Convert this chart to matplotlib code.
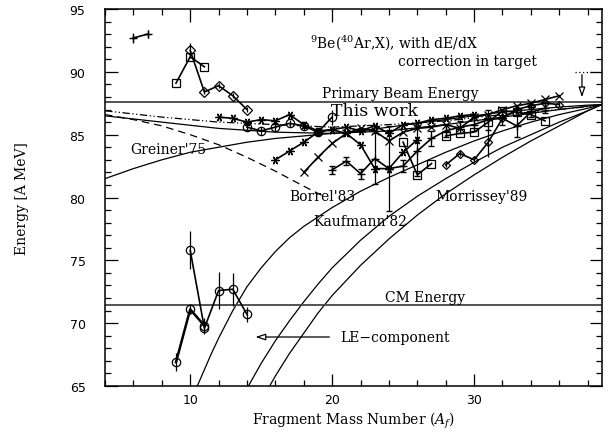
import numpy as np
import matplotlib
matplotlib.use("Agg")
import matplotlib.pyplot as plt
from matplotlib.ticker import MultipleLocator

# ---------------- data ----------------
# theory curves (x, y)
greiner_x = [4, 6, 8, 10, 12, 14, 16, 18, 20, 22, 24, 26, 28, 30, 32, 34, 36, 38, 39]
greiner_y = [81.5, 82.3, 83.0, 83.6, 84.0, 84.4, 84.7, 84.9, 85.1, 85.3, 85.6, 85.9, 86.2, 86.5, 86.8, 87.0, 87.2, 87.35, 87.4]

solid_top_x = [4, 8, 12, 16, 20, 24, 28, 32, 36, 39]
solid_top_y = [86.5, 86.0, 85.5, 85.2, 85.1, 85.3, 85.8, 86.4, 87.0, 87.4]

dashdot_x = [4, 8, 12, 16, 20, 24, 28, 32, 36, 39]
dashdot_y = [86.9, 86.4, 86.0, 85.8, 85.6, 85.8, 86.1, 86.6, 87.0, 87.35]

borrel_x = [4, 6, 8, 10, 12, 14, 16, 18, 19.4]
borrel_y = [86.6, 86.2, 85.7, 85.0, 84.2, 83.2, 82.1, 80.9, 80.1]

kauf1_x = [10.5, 11, 11.5, 12, 13, 14, 15, 16, 17, 18, 20, 22, 24, 26, 28, 30, 32, 34, 36, 38, 39]
kauf1_y = [65.0, 66.3, 67.6, 68.8, 71.0, 72.9, 74.4, 75.7, 76.8, 77.7, 79.2, 80.5, 81.6, 82.6, 83.6, 84.5, 85.3, 86.0, 86.6, 87.1, 87.4]

kauf2_x = [14.1, 14.5, 15, 16, 17, 18, 19, 20, 22, 24, 26, 28, 30, 32, 34, 36, 38, 39]
kauf2_y = [65.0, 65.8, 66.8, 68.6, 70.2, 71.7, 73.1, 74.4, 76.6, 78.5, 80.1, 81.5, 82.8, 84.0, 85.0, 86.0, 86.9, 87.4]

morr_x = [15.6, 16, 17, 18, 19, 20, 22, 24, 26, 28, 30, 32, 34, 36, 38, 39]
morr_y = [65.0, 65.8, 67.6, 69.2, 70.8, 72.2, 74.6, 76.7, 78.6, 80.3, 81.8, 83.2, 84.5, 85.7, 86.9, 87.4]

# measured series ("This work")
d1_x = [10, 11, 12, 13, 14]
d1_y = [91.7, 88.4, 88.9, 88.1, 87.0]
d1_e = [0.6, 0.2, 0.2, 0.2, 0.2]

s1_x = [9, 10, 11]
s1_y = [89.1, 91.2, 90.4]

p0_x = [6, 7]
p0_y = [92.7, 93.0]

c1_x = [14, 15, 16, 17, 18, 19, 20]
c1_y = [85.6, 85.3, 85.6, 85.9, 85.7, 85.2, 86.4]
c1_e = [0.3, 0.3, 0.3, 0.3, 0.3, 0.3, 0.6]

a1_x = [12, 13, 14, 15, 16, 17, 18, 19, 20, 21, 22, 23, 24, 25, 26, 27, 28, 29, 30]
a1_y = [86.4, 86.3, 86.0, 86.2, 86.1, 86.6, 85.8, 85.3, 85.4, 85.6, 85.3, 85.7, 85.1, 85.8, 85.9, 86.2, 86.3, 86.5, 86.6]

a2_x = [16, 17, 18, 19, 20, 21, 22, 23, 24, 25, 26]
a2_y = [83.0, 83.7, 84.4, 85.2, 85.4, 85.1, 84.2, 82.3, 82.3, 83.6, 84.6]

x1_x = [18, 19, 20, 21, 22, 23, 24, 25, 26, 27, 28, 29, 30, 31, 32, 33, 34, 35, 36]
x1_y = [82.0, 83.2, 84.3, 85.1, 85.5, 85.3, 84.5, 85.2, 85.5, 85.6, 85.8, 85.5, 86.4, 86.6, 87.0, 87.3, 87.5, 87.8, 88.1]

p1_x = [20, 21, 22, 23, 24, 25, 26, 27, 28, 29, 30, 31, 32, 33, 34, 35]
p1_y = [82.2, 82.9, 81.9, 83.1, 82.3, 82.5, 83.7, 84.7, 85.3, 85.6, 85.8, 86.2, 86.3, 85.7, 86.8, 87.1]
p1_e = [0.3, 0.3, 0.4, 2.0, 3.4, 0.5, 2.0, 0.6, 0.5, 0.5, 0.5, 0.8, 0.5, 0.9, 0.4, 0.4]

s2_x = [25, 26, 27]
s2_y = [84.4, 81.8, 82.7]

s3_x = [28, 29, 30, 31, 32, 33, 34, 35]
s3_y = [84.9, 85.1, 85.2, 86.0, 86.9, 86.8, 86.6, 86.1]

d2_x = [28, 29, 30, 31, 32, 33, 34, 35, 36]
d2_y = [82.6, 83.5, 83.0, 84.4, 86.3, 87.0, 87.3, 87.5, 87.4]
d2_e = [0.2, 0.2, 0.2, 1.2, 0.3, 0.2, 0.2, 0.2, 0.2]

le1_x = [9, 10, 11]
le1_y = [66.9, 71.1, 69.8]
le1_e = [0.7, 0.4, 0.6]

le2_x = [10, 11, 12, 13, 14]
le2_y = [75.8, 69.6, 72.6, 72.7, 70.7]
le2_e = [1.5, 0.5, 1.5, 1.3, 0.6]

primary_beam = 87.6
cm_energy = 71.45

# ---------------- plot ----------------
plt.rcParams['font.family'] = ['DejaVu Serif']
plt.rcParams['mathtext.fontset'] = 'dejavuserif'

fig = plt.figure(figsize=(6.16, 4.35), dpi=100)
ax = fig.add_axes([0.1705, 0.1103, 0.8065, 0.8667])
ax.set_xlim(4, 39)
ax.set_ylim(65, 95)

k = 'black'
tlw = 0.9
ax.plot(greiner_x, greiner_y, color=k, lw=tlw)
ax.plot(solid_top_x, solid_top_y, color=k, lw=tlw)
ax.plot(dashdot_x, dashdot_y, color=k, lw=tlw, linestyle=(0, (6, 2, 1, 2, 1, 2)))
ax.plot(borrel_x, borrel_y, color=k, lw=tlw, linestyle=(0, (6, 4)))
ax.plot(kauf1_x, kauf1_y, color=k, lw=tlw)
ax.plot(kauf2_x, kauf2_y, color=k, lw=tlw)
ax.plot(morr_x, morr_y, color=k, lw=tlw)

ax.axhline(primary_beam, color='#444444', lw=1.3)
ax.axhline(cm_energy, color='#444444', lw=1.3)

dlw = 1.2
ms = 6
ast = (6, 2, 90)
common = dict(color=k, lw=dlw, mfc='none', mec=k, mew=0.9, ms=ms)

ax.errorbar(d1_x, d1_y, yerr=d1_e, marker='D', ms=5, color=k, lw=dlw, mfc='none', mew=0.9, elinewidth=0.9, capsize=0)
ax.plot(s1_x, s1_y, marker='s', **common)
ax.errorbar(p0_x, p0_y, yerr=[0.4, 0.3], xerr=0.15, marker='+', color=k, lw=dlw, ms=6, elinewidth=0.9, capsize=0)
ax.errorbar(c1_x, c1_y, yerr=c1_e, marker='o', color=k, lw=dlw, mfc='none', ms=ms, mew=0.9, elinewidth=0.9, capsize=0)
ax.plot(a1_x, a1_y, marker=ast, **common)
ax.plot(a2_x, a2_y, marker=ast, **common)
ax.plot(x1_x, x1_y, marker='x', **common)
ax.errorbar(p1_x, p1_y, yerr=p1_e, marker='+', color=k, lw=dlw, ms=6, elinewidth=0.9, capsize=2)
ax.plot(s2_x, s2_y, marker='s', **common)
ax.plot(s3_x, s3_y, marker='s', **common)
ax.errorbar(d2_x, d2_y, yerr=d2_e, marker='D', ms=4.5, color=k, lw=dlw, mfc='none', mew=0.9, elinewidth=0.9, capsize=0)
ax.errorbar(le1_x, le1_y, yerr=le1_e, marker='o', color=k, lw=1.8, mfc='none', ms=ms, mew=0.9, elinewidth=0.9, capsize=0)
ax.errorbar(le2_x, le2_y, yerr=le2_e, marker='o', color=k, lw=dlw, mfc='none', ms=ms, mew=0.9, elinewidth=0.9, capsize=0)

# arrows
ax.plot([37.1, 39], [90.0, 90.0], color=k, lw=0.9, linestyle=(0, (1, 2)))
ax.annotate('', xy=(37.6, 87.75), xytext=(37.6, 90.0),
            arrowprops=dict(arrowstyle='-|>,head_length=0.6,head_width=0.2', fc='white', ec=k, lw=0.9))
ax.annotate('', xy=(14.4, 68.9), xytext=(20.0, 68.9),
            arrowprops=dict(arrowstyle='-|>,head_length=0.6,head_width=0.2', fc='white', ec=k, lw=0.9))

# texts
fs = 10
ax.text(18.45, 92.45, r'$^{9}$Be($^{40}$Ar,X), with dE/dX', fontsize=fs, va='center', ha='left')
ax.text(24.65, 90.9, 'correction in target', fontsize=fs, va='center', ha='left')
ax.text(19.3, 87.72, 'Primary Beam Energy', fontsize=fs, va='bottom', ha='left')
ax.text(19.9, 86.9, 'This work', fontsize=12.5, va='center', ha='left')
ax.text(5.8, 83.9, "Greiner'75", fontsize=fs, va='center', ha='left')
ax.text(17.0, 80.1, "Borrel'83", fontsize=fs, va='center', ha='left')
ax.text(18.7, 78.1, "Kaufmann'82", fontsize=fs, va='center', ha='left')
ax.text(27.3, 80.1, "Morrissey'89", fontsize=fs, va='center', ha='left')
ax.text(23.7, 71.55, 'CM Energy', fontsize=fs, va='bottom', ha='left')
ax.text(20.6, 68.9, 'LE\u2212component', fontsize=fs, va='center', ha='left')

ax.xaxis.set_major_locator(MultipleLocator(10))
ax.xaxis.set_minor_locator(MultipleLocator(2))
ax.yaxis.set_major_locator(MultipleLocator(5))
ax.yaxis.set_minor_locator(MultipleLocator(1))
ax.tick_params(which='both', direction='in', top=True, right=True, width=0.9)
ax.tick_params(which='major', length=9)
ax.tick_params(which='minor', length=4.5)
for lab in ax.get_xticklabels() + ax.get_yticklabels():
    lab.set_fontfamily('DejaVu Sans')
    lab.set_fontsize(9)
ax.tick_params(axis='x', pad=5)
ax.tick_params(axis='y', pad=14)
for s in ax.spines.values():
    s.set_linewidth(1.1)

ax.set_xlabel(r'Fragment Mass Number ($A_f$)', fontsize=fs, labelpad=3)
ax.set_ylabel('Energy [A MeV]', fontsize=fs, labelpad=29)

fig.savefig('out.png', dpi=100)
